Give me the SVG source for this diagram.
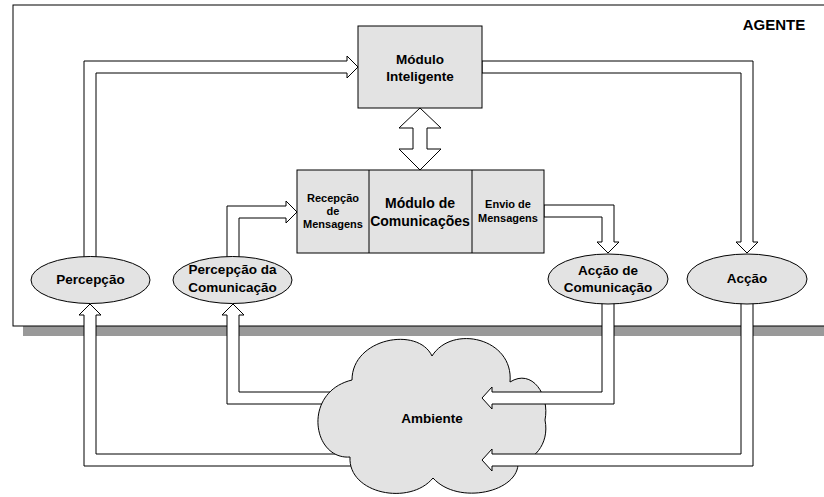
<svg xmlns="http://www.w3.org/2000/svg" width="824" height="497" viewBox="0 0 824 497">
<style>
.bx{fill:#e3e3e3;stroke:#000;stroke-width:1}
.ar{fill:#fff;stroke:#000;stroke-width:1;stroke-linejoin:miter}
.t{font-family:"Liberation Sans",Arial,sans-serif;font-weight:bold;fill:#000;text-anchor:middle}
.l{font-size:13.5px}
.s{font-size:11px}
</style>
<rect x="0" y="0" width="824" height="497" fill="#fff"/>
<g id="agente">
<rect x="23" y="326" width="801" height="10" fill="#999"/>
<rect x="13" y="5" width="820" height="321" fill="#fff" stroke="#000" stroke-width="1"/>
<text class="t" x="774" y="30" font-size="15px">AGENTE</text>
</g>
<g id="connectors">
<polygon class="ar" points="84,315 84,466 370,466 370,454 96,454 96,315 101,315 90,304 79,315"/>
<polygon class="ar" points="227,315 227,404 350,404 350,392 239,392 239,315 244,315 233,304 222,315"/>
</g>
<g id="ambiente">
<path class="bx" d="M352,380 C352,338 418,326 432,356 C452,324 514,338 510,382 C532,368 550,395 545,420 C550,445 532,462 518,462 C520,492 458,506 433,478 C410,506 348,494 350,457 C312,460 302,392 352,380 Z"/>
<text class="t l" x="432" y="423">Ambiente</text>
</g>
<g id="connectors2">
<polygon class="ar" points="602,300 602,392 492,392 492,387 482,398 492,409 492,404 614,404 614,300"/>
<polygon class="ar" points="741,300 741,454 492,454 492,449 482,460 492,471 492,466 753,466 753,300"/>
<polygon class="ar" points="84,262 84,61 347,61 347,56 358,67 347,78 347,73 96,73 96,262"/>
<polygon class="ar" points="227,262 227,206 286,206 286,201 297,212 286,223 286,218 239,218 239,262"/>
<polygon class="ar" points="482,61 753,61 753,242 758,242 747,253 736,242 741,242 741,73 482,73"/>
<polygon class="ar" points="544,205 614,205 614,242 619,242 608,253 597,242 602,242 602,217 544,217"/>
<polygon class="ar" points="420,108 441,128 427,128 427,149 441,149 420,170 399,149 413,149 413,128 399,128"/>
</g>
<g id="modulo-inteligente">
<rect class="bx" x="358" y="26" width="124" height="82"/>
<text class="t l" x="420" y="64">Módulo</text>
<text class="t l" x="420" y="81">Inteligente</text>
</g>
<g id="modulo-comunicacoes">
<rect class="bx" x="297" y="170" width="247" height="83"/>
<line x1="369" y1="170" x2="369" y2="253" stroke="#000"/>
<line x1="472" y1="170" x2="472" y2="253" stroke="#000"/>
<text class="t s" x="333" y="202">Recepção</text>
<text class="t s" x="333" y="215">de</text>
<text class="t s" x="333" y="228">Mensagens</text>
<text class="t" x="420" y="208" font-size="14px">Módulo de</text>
<text class="t" x="420" y="226" font-size="14px">Comunicações</text>
<text class="t s" x="508" y="208">Envio de</text>
<text class="t s" x="508" y="222">Mensagens</text>
</g>
<g id="percepcao">
<ellipse class="bx" cx="90.5" cy="280" rx="59.5" ry="23.5"/>
<text class="t l" x="90.5" y="284">Percepção</text>
</g>
<g id="percepcao-comunicacao">
<ellipse class="bx" cx="232.5" cy="280" rx="59.5" ry="23.5"/>
<text class="t l" x="232.5" y="274">Percepção da</text>
<text class="t l" x="232.5" y="292">Comunicação</text>
</g>
<g id="accao-comunicacao">
<ellipse class="bx" cx="608" cy="279" rx="60" ry="25"/>
<text class="t l" x="608" y="275">Acção de</text>
<text class="t l" x="608" y="292">Comunicação</text>
</g>
<g id="accao">
<ellipse class="bx" cx="747" cy="279" rx="60" ry="25"/>
<text class="t l" x="747" y="283">Acção</text>
</g>
</svg>
